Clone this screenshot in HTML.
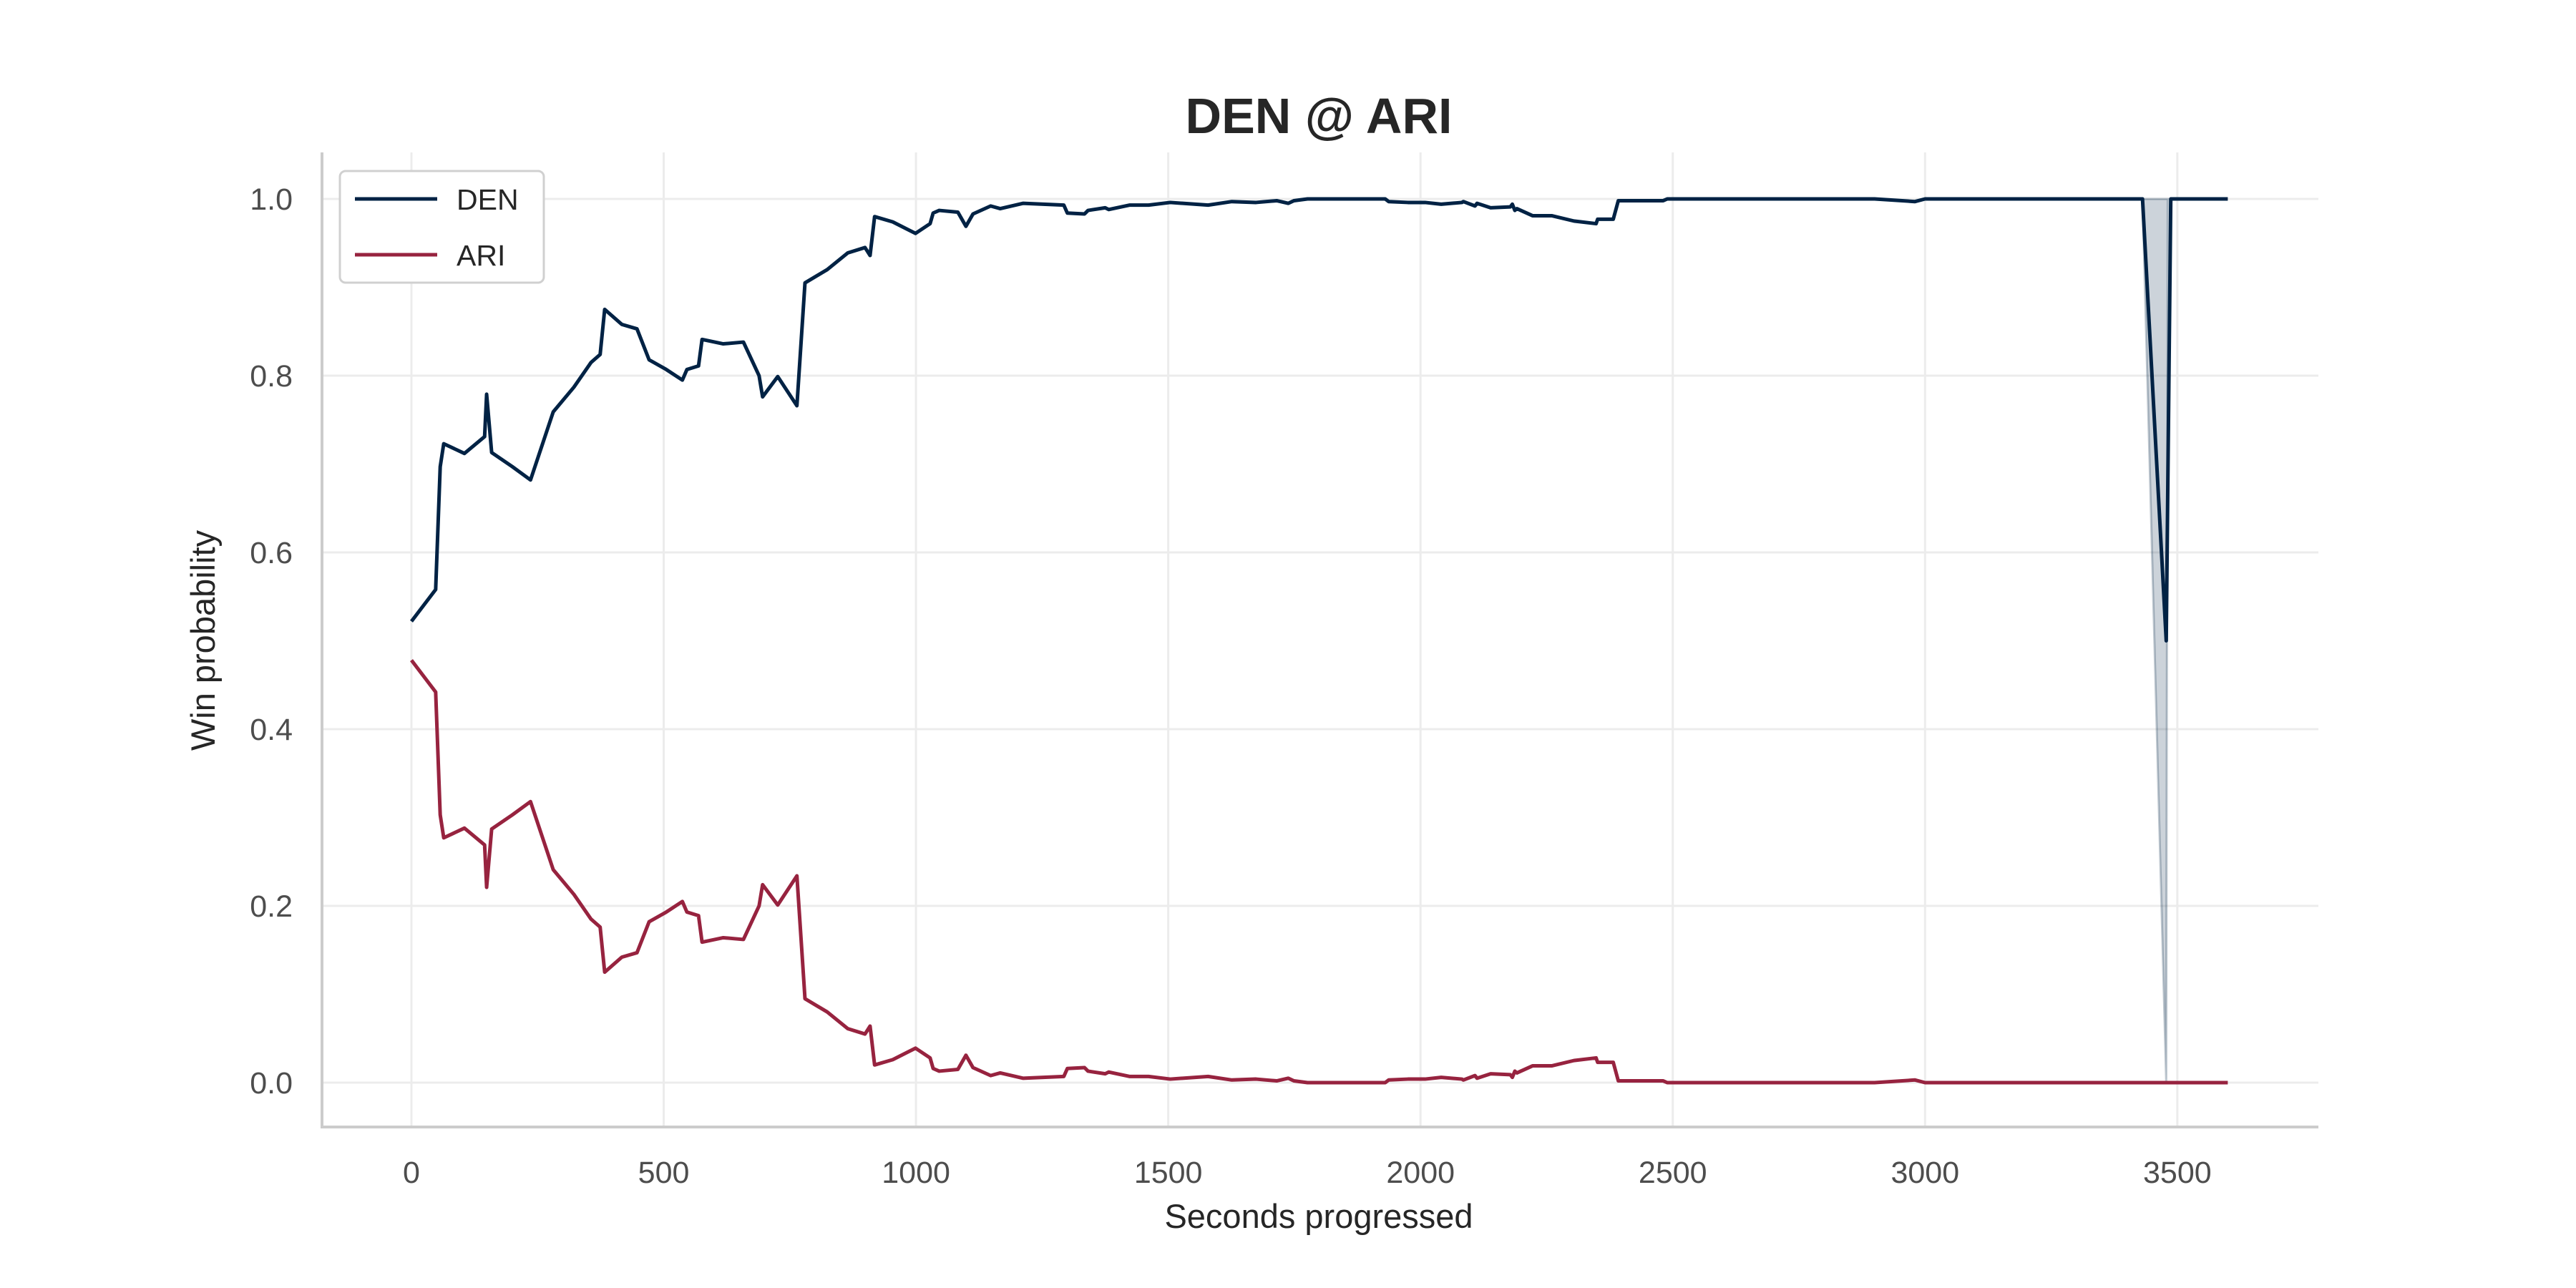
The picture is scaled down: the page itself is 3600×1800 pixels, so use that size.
<!DOCTYPE html>
<html><head><meta charset="utf-8">
<style>
html,body{margin:0;padding:0;background:#fff;}
svg{display:block;font-family:"Liberation Sans",sans-serif;}
</style></head>
<body>
<svg id="chart" width="3600" height="1800" viewBox="0 0 3600 1800">
<text x="1843" y="186" text-anchor="middle" font-size="70" font-weight="bold" fill="#262626">DEN @ ARI</text>
<g id="grid"></g>
<g id="axes"></g>
<g id="marks"></g>
<text x="1843" y="1716" text-anchor="middle" font-size="47" fill="#262626">Seconds progressed</text>
<text transform="translate(300,895) rotate(-90)" text-anchor="middle" font-size="47" fill="#262626">Win probability</text>
<g>
<rect x="475" y="239" width="285" height="156" rx="8" fill="#fff" stroke="#d0d0d0" stroke-width="3"/>
<g>
<line x1="496" y1="278" x2="611" y2="278" stroke="#002244" stroke-width="5"/>
<text x="638" y="293" font-size="41" fill="#262626">DEN</text>
</g>
<g>
<line x1="496" y1="356" x2="611" y2="356" stroke="#97233F" stroke-width="5"/>
<text x="638" y="371" font-size="41" fill="#262626">ARI</text>
</g>
</g>
</svg>
<script>
const seconds = [0,48,57,64,105,145,149,159,200,236,281,322,356,374,383,417,447,471,505,537,546,569,576,618,658,689,696,726,764,780,824,865,899,909,918,954,999,1028,1034,1046,1083,1099,1113,1148,1167,1212,1293,1300,1334,1341,1375,1382,1423,1461,1504,1579,1626,1674,1715,1738,1749,1776,1930,1937,1975,2009,2041,2082,2085,2108,2112,2139,2178,2182,2187,2191,2222,2260,2304,2348,2351,2382,2392,2437,2481,2489,2576,2900,2980,3000,3431,3478,3487,3600];
const denValues = [0.522,0.558,0.697,0.723,0.712,0.731,0.779,0.713,0.697,0.682,0.759,0.787,0.815,0.824,0.875,0.858,0.853,0.818,0.807,0.795,0.807,0.811,0.841,0.836,0.838,0.800,0.776,0.799,0.766,0.905,0.920,0.939,0.945,0.936,0.980,0.974,0.961,0.972,0.984,0.987,0.985,0.969,0.983,0.992,0.989,0.995,0.993,0.984,0.983,0.987,0.990,0.988,0.993,0.993,0.996,0.993,0.997,0.996,0.998,0.995,0.998,1.0,1.0,0.997,0.996,0.996,0.994,0.996,0.997,0.992,0.995,0.990,0.991,0.994,0.987,0.989,0.981,0.981,0.975,0.972,0.977,0.977,0.998,0.998,0.998,1.0,1.0,1.0,0.997,1.0,1.0,0.5,1.0,1.0];
const ariValues = [0.478,0.442,0.303,0.277,0.288,0.269,0.221,0.287,0.303,0.318,0.241,0.213,0.185,0.176,0.125,0.142,0.147,0.182,0.193,0.205,0.193,0.189,0.159,0.164,0.162,0.200,0.224,0.201,0.234,0.095,0.080,0.061,0.055,0.064,0.020,0.026,0.039,0.028,0.016,0.013,0.015,0.031,0.017,0.008,0.011,0.005,0.007,0.016,0.017,0.013,0.010,0.012,0.007,0.007,0.004,0.007,0.003,0.004,0.002,0.005,0.002,0.0,0.0,0.003,0.004,0.004,0.006,0.004,0.003,0.008,0.005,0.010,0.009,0.006,0.013,0.011,0.019,0.019,0.025,0.028,0.023,0.023,0.002,0.002,0.002,0.0,0.0,0.0,0.003,0.0,0.0,0.0,0.0,0.0];
const fillSeconds = [3431,3478,3481];
const fillValues = [1.0,0.0,1.0];
const xTicks = [0,500,1000,1500,2000,2500,3000,3500];
const yTicks = [0.0,0.2,0.4,0.6,0.8,1.0];
const yTickLabels = ["0.0","0.2","0.4","0.6","0.8","1.0"];

const NS = "http://www.w3.org/2000/svg";
const X0 = 575, XS = 0.7051, Y0 = 1513, YS = 1235;
const L = 450, R = 3240, T = 213, B = 1575;
function xs(v){ return X0 + v*XS; }
function ys(v){ return Y0 - v*YS; }
function mk(tag, attrs, parent){ const e=document.createElementNS(NS,tag); for(const k in attrs) e.setAttribute(k,attrs[k]); parent.appendChild(e); return e; }

const grid = document.getElementById('grid');
const axes = document.getElementById('axes');
const marks = document.getElementById('marks');

xTicks.forEach(t=>{
  const g = mk('line',{x1:xs(t),x2:xs(t),y1:T,y2:B,stroke:'#ececec','stroke-width':3},grid);
  
  
  const lb = mk('text',{x:xs(t),y:1653,'text-anchor':'middle','font-size':43,fill:'#4d4d4d'},axes);
  lb.textContent = String(t);
  
  
});
yTicks.forEach((t,i)=>{
  const g = mk('line',{x1:L,x2:R,y1:ys(t),y2:ys(t),stroke:'#ececec','stroke-width':3},grid);
  
  
  const lb = mk('text',{x:409,y:ys(t)+15,'text-anchor':'end','font-size':43,fill:'#4d4d4d'},axes);
  lb.textContent = yTickLabels[i];
  
  
});
const ls = mk('line',{x1:L,x2:L,y1:T,y2:B+2,stroke:'#cccccc','stroke-width':4},axes);


const bs = mk('line',{x1:L-2,x2:R,y1:B,y2:B,stroke:'#cccccc','stroke-width':4},axes);



const fp = mk('polygon',{points:fillSeconds.map((s,i)=>xs(s)+','+ys(fillValues[i])).join(' '),fill:'rgba(0,34,68,0.2)',stroke:'rgba(0,34,68,0.25)','stroke-width':3},marks);



const ari = mk('polyline',{points:seconds.map((s,i)=>xs(s)+','+ys(ariValues[i])).join(' '),fill:'none',stroke:'#97233F','stroke-width':5,'stroke-linejoin':'round'},marks);


const den = mk('polyline',{points:seconds.map((s,i)=>xs(s)+','+ys(denValues[i])).join(' '),fill:'none',stroke:'#002244','stroke-width':5,'stroke-linejoin':'round'},marks);


</script>
</body></html>
